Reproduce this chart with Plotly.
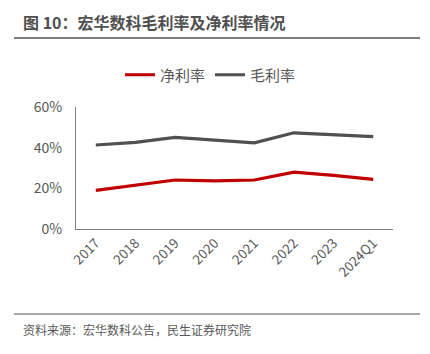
import plotly.graph_objects as go

categories = ["2017", "2018", "2019", "2020", "2021", "2022", "2023", "2024Q1"]
net_margin = [0.190, 0.215, 0.241, 0.237, 0.241, 0.280, 0.264, 0.244]
gross_margin = [0.413, 0.426, 0.451, 0.436, 0.424, 0.473, 0.465, 0.454]
y_ticks = [0, 0.2, 0.4, 0.6]
y_tick_labels = ["0%", "20%", "40%", "60%"]

W, H = 430, 354
L, R, T, B = 76, 393, 107, 229

def px(x):
    return (x - L) / (R - L)

def py(y):
    return (B - y) / (B - T)

font_family = "Microsoft YaHei, Noto Sans CJK SC, sans-serif"

fig = go.Figure()
fig.add_trace(go.Scatter(x=categories, y=net_margin, name="净利率", mode="lines",
                         line=dict(color="#C00000", width=3.2)))
fig.add_trace(go.Scatter(x=categories, y=gross_margin, name="毛利率", mode="lines",
                         line=dict(color="#505050", width=3.2)))

fig.update_layout(
    width=W, height=H,
    margin=dict(l=L, r=W - R, t=T, b=H - B),
    paper_bgcolor="white", plot_bgcolor="white",
    font=dict(family=font_family, color="#595959"),
    showlegend=True,
    legend=dict(orientation="h", x=px(120), xanchor="left", y=py(75), yanchor="middle",
                font=dict(size=15, color="#595959"), bgcolor="rgba(0,0,0,0)", itemclick=False),
    xaxis=dict(type="category", range=[-0.5, len(categories) - 0.5], showgrid=False,
               showline=True, linecolor="#7f7f7f", linewidth=1,
               ticks="", tickangle=-45, tickfont=dict(size=13.5, color="#595959")),
    yaxis=dict(range=[0, 0.6], tickvals=y_ticks, ticktext=y_tick_labels, showgrid=False,
               showline=True, linecolor="#7f7f7f", linewidth=1, ticks="", zeroline=False,
               ticklabelstandoff=10, tickfont=dict(size=14, color="#595959")),
)

fig.add_annotation(text="<b>图 10：宏华数科毛利率及净利率情况</b>", xref="paper", yref="paper",
                   x=px(21), y=py(22), xanchor="left", yanchor="middle", showarrow=False,
                   font=dict(size=16, color="#505050", family=font_family))
fig.add_shape(type="line", xref="paper", yref="paper", x0=px(14), x1=px(420), y0=py(38), y1=py(38),
              line=dict(color="#505050", width=1.5))
fig.add_shape(type="line", xref="paper", yref="paper", x0=px(14), x1=px(420), y0=py(314), y1=py(314),
              line=dict(color="#505050", width=1))
fig.add_annotation(text="资料来源：宏华数科公告，民生证券研究院", xref="paper", yref="paper",
                   x=px(21), y=py(329), xanchor="left", yanchor="middle", showarrow=False,
                   font=dict(size=12, color="#595959", family=font_family))

fig.write_html("out.html")
